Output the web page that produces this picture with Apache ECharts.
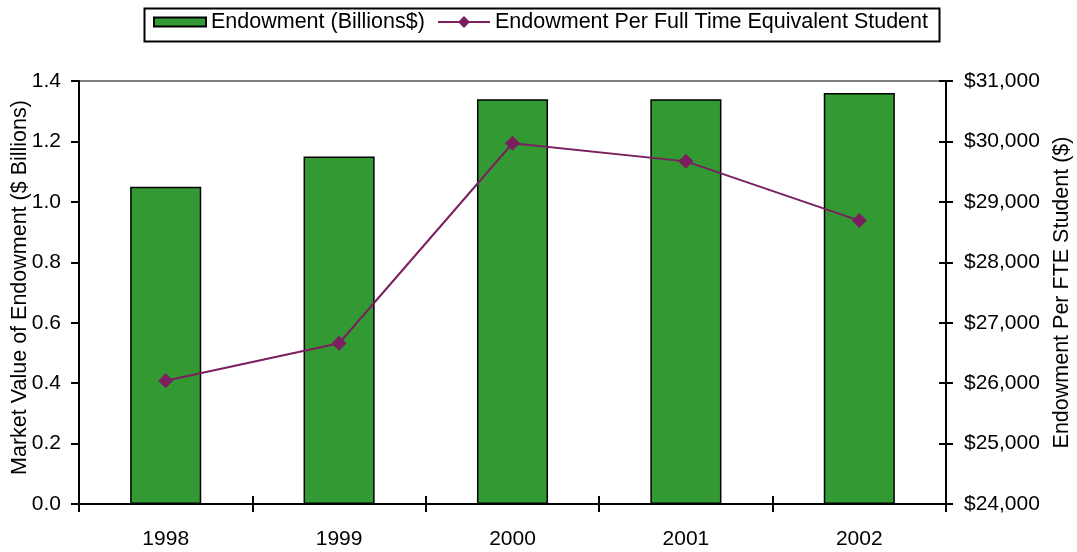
<!DOCTYPE html>
<html><head><meta charset="utf-8">
<script src="https://cdn.jsdelivr.net/npm/echarts@6/dist/echarts.min.js"></script>
<style>html,body{margin:0;padding:0;background:#fff}#c{width:1077px;height:552px}</style>
</head><body><div id="c"></div>
<script>
const years = ['1998', '1999', '2000', '2001', '2002'];
const endowmentBillions = [1.05, 1.15, 1.34, 1.34, 1.36];
const endowmentPerFTE = [26040, 26660, 29970, 29670, 28690];
const barName = 'Endowment (Billions$)';
const lineName = 'Endowment Per Full Time Equivalent Student';
const leftAxisName = 'Market Value of Endowment ($ Billions)';
const rightAxisName = 'Endowment Per FTE Student ($)';

const FONT = "'Liberation Sans', Arial, sans-serif";
const txt = {color: '#000', fontFamily: FONT, fontSize: 21};
const legendText = {color: '#000', fontFamily: FONT, fontSize: 21.5};
const chart = echarts.init(document.getElementById('c'), null, {renderer: 'canvas'});
chart.setOption({
  animation: false,
  backgroundColor: '#fff',
  textStyle: {fontFamily: FONT},
  graphic: [{
    type: 'rect', left: 142, top: 6, z: 100,
    shape: {width: 795, height: 33},
    style: {fill: null, stroke: '#000', lineWidth: 2}
  }],
  legend: [
    {
      left: 148, top: 11, padding: [0, 5],
      itemWidth: 52, itemHeight: 9,
      textStyle: legendText,
      data: [{name: barName, icon: 'rect', itemStyle: {borderWidth: 2, borderColor: '#000'}}]
    },
    {
      left: 432, top: 11, padding: [0, 5],
      itemWidth: 52, itemHeight: 15,
      textStyle: legendText,
      data: [{name: lineName}]
    }
  ],
  grid: {left: 79, right: 131, top: 81, bottom: 48, containLabel: false, outerBoundsMode: 'none',
         show: true, borderColor: '#808080', borderWidth: 2},
  xAxis: [
    {
      type: 'category', data: years, position: 'bottom',
      axisLine: {lineStyle: {color: '#000', width: 2}},
      axisTick: {show: true, inside: false, length: 8, lineStyle: {color: '#000', width: 2}},
      axisLabel: Object.assign({margin: 25}, txt)
    },
    {
      type: 'category', data: years, position: 'bottom',
      axisLine: {show: false},
      axisTick: {show: true, inside: true, length: 8, lineStyle: {color: '#000', width: 2}},
      axisLabel: {show: false}
    }
  ],
  yAxis: [
    {
      type: 'value', position: 'left', min: 0, max: 1.4, interval: 0.2,
      name: leftAxisName, nameLocation: 'middle', nameRotate: 90, nameGap: 48,
      nameMoveOverlap: false,
      nameTextStyle: {color: '#000', fontFamily: FONT, fontSize: 21.5, padding: [0, 0, 0, 10]},
      axisLine: {show: true, lineStyle: {color: '#000', width: 2}},
      axisTick: {show: true, inside: false, length: 8, lineStyle: {color: '#000', width: 2}},
      axisLabel: Object.assign({margin: 18, formatter: v => v.toFixed(1)}, txt),
      splitLine: {show: false}
    },
    {
      type: 'value', position: 'right', min: 24000, max: 31000, interval: 1000,
      name: rightAxisName, nameLocation: 'middle', nameRotate: 90, nameGap: 102,
      nameTextStyle: {color: '#000', fontFamily: FONT, fontSize: 21.5},
      axisLine: {show: true, lineStyle: {color: '#000', width: 2}},
      axisTick: {show: true, inside: false, length: 7, lineStyle: {color: '#000', width: 2}},
      axisLabel: Object.assign({margin: 18, formatter: v => '$' + v.toLocaleString('en-US')}, txt),
      splitLine: {show: false}
    },
    {
      type: 'value', position: 'right', min: 24000, max: 31000, interval: 1000,
      axisLine: {show: false},
      axisTick: {show: true, inside: true, length: 7, lineStyle: {color: '#000', width: 2}},
      axisLabel: {show: false},
      splitLine: {show: false}
    }
  ],
  series: [
    {
      name: barName, type: 'bar', xAxisIndex: 0, yAxisIndex: 0,
      data: endowmentBillions, barWidth: '41%',
      itemStyle: {color: '#339933', borderColor: '#000', borderWidth: 1.5}
    },
    {
      name: lineName, type: 'line', xAxisIndex: 0, yAxisIndex: 1,
      data: endowmentPerFTE, symbol: 'diamond', symbolSize: 15, z: 5,
      itemStyle: {color: '#7b1f5e'},
      lineStyle: {color: '#7b1f5e', width: 2}
    }
  ]
});
</script></body></html>
